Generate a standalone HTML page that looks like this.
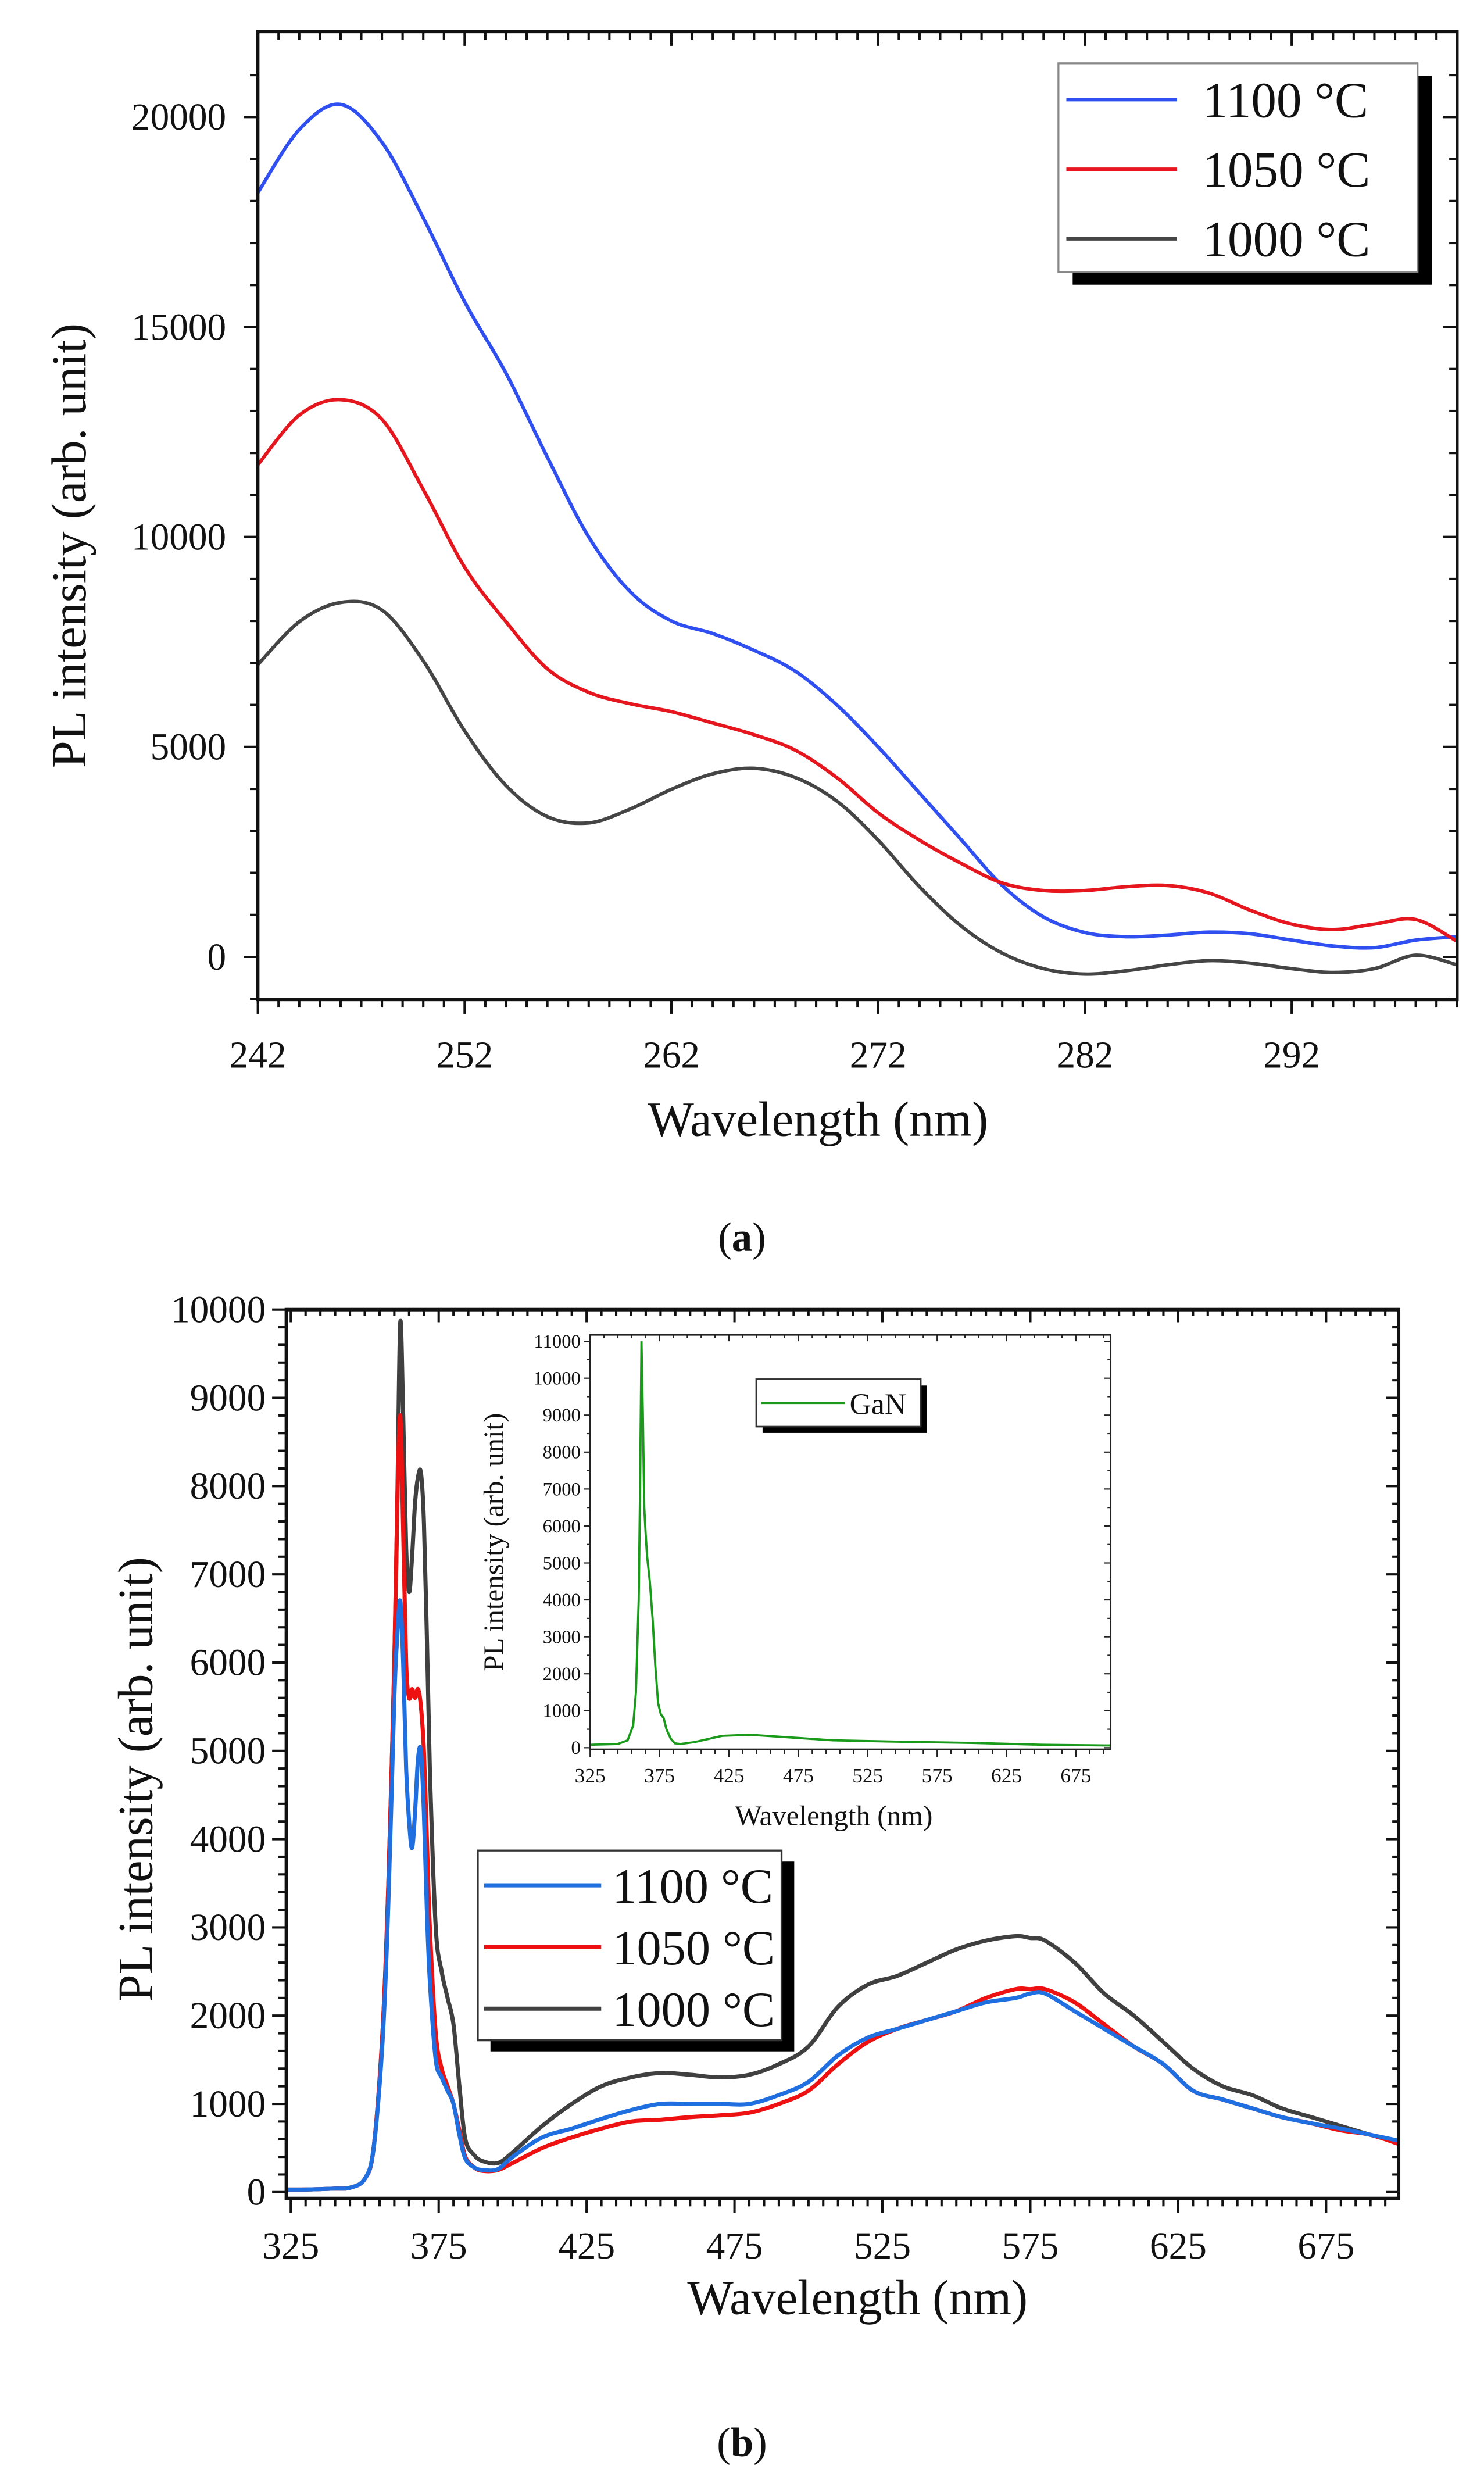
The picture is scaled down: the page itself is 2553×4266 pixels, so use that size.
<!DOCTYPE html>
<html><head><meta charset="utf-8"><style>
html,body{margin:0;padding:0;background:#fff;}
svg{display:block;}
text{font-family:"Liberation Serif",serif;fill:#111;}
</style></head><body>
<svg id="fig" width="2553" height="4266" viewBox="0 0 938 1568" preserveAspectRatio="none" xmlns="http://www.w3.org/2000/svg">
<rect x="0" y="0" width="938" height="1568" fill="#fff"/>
<g id="pa"></g>
<g id="pb"></g>
<g id="pi"></g>
<text x="469" y="791" font-size="26" text-anchor="middle">(<tspan font-weight="bold">a</tspan>)</text>
<text x="469" y="1553" font-size="26" text-anchor="middle">(<tspan font-weight="bold">b</tspan>)</text>
</svg>
<script>
// ---------- Panel (a) data ----------
const aWavelengths = [242,244,246,248,250,252,254,256,258,260,262,264,266,268,270,272,274,276,278,280,282,284,286,288,290,292,294,296,298,300];
const a1100 = [18200,19700,20300,19400,17600,15600,13900,11900,10000,8700,8000,7700,7300,6800,6000,5000,3900,2800,1700,950,580,480,520,590,550,400,260,220,400,480];
const a1050 = [11720,12900,13270,12800,11130,9280,7980,6860,6300,6030,5840,5570,5290,4920,4270,3430,2780,2230,1760,1580,1580,1670,1700,1520,1110,780,650,780,890,370];
const a1000 = [6960,7980,8440,8260,7050,5380,4080,3340,3190,3520,3990,4360,4490,4270,3710,2780,1670,740,90,-280,-410,-330,-190,-90,-150,-280,-370,-280,40,-190];
const aXTicks = [242,252,262,272,282,292];
const aYTicks = [0,5000,10000,15000,20000];
const aLegend = ["1100 °C","1050 °C","1000 °C"];

// ---------- Panel (b) data ----------
const bWavelengths = [320,330,340,345,350,353,356,358,360,361,362,363,364,365,366,367,368,369,370,371,372,374,376,378,380,382,384,387,390,395,400,410,420,430,440,450,460,470,480,490,500,510,520,530,540,550,560,570,575,580,590,600,610,620,630,640,650,660,670,680,690,700];
const b1000 = [30,30,40,50,150,500,1800,3500,6000,7800,9850,8800,7300,6800,7200,7800,8100,8150,7600,6300,4800,3000,2500,2200,1900,1200,600,420,350,330,450,750,1000,1200,1300,1350,1330,1300,1330,1450,1650,2100,2350,2450,2600,2750,2850,2900,2880,2850,2600,2250,2000,1700,1400,1200,1100,950,850,750,650,570];
const b1050 = [30,30,40,50,150,500,1800,3500,6000,7800,8800,7500,6000,5600,5700,5600,5700,5500,5000,4000,3000,1800,1400,1200,1000,700,400,280,240,250,330,500,620,720,800,820,850,870,900,1000,1150,1450,1700,1850,1950,2050,2200,2300,2300,2300,2150,1900,1650,1450,1150,1050,950,850,780,700,650,540];
const b1100 = [30,30,40,50,150,500,1700,3300,5600,6300,6700,6000,4800,4200,3900,4300,4900,5000,4300,3200,2400,1500,1300,1150,1000,650,380,280,250,260,400,620,720,830,930,1000,1000,1000,1000,1100,1250,1550,1750,1850,1950,2050,2150,2200,2250,2250,2050,1850,1650,1450,1150,1050,950,850,780,720,650,580];
const bXTicks = [325,375,425,475,525,575,625,675];
const bYTicks = [0,1000,2000,3000,4000,5000,6000,7000,8000,9000,10000];

// ---------- Inset data ----------
const iWavelengths = [325,345,352,356,358,360,361,362,363,364,365,366,368,370,372,374,376,378,380,383,386,390,400,420,440,460,480,500,550,600,650,700];
const iGaN = [80,100,200,600,1500,4000,7000,11000,9000,6500,5800,5200,4500,3500,2200,1200,900,800,500,250,120,100,150,320,350,300,250,200,160,130,80,60];
const iXTicks = [325,375,425,475,525,575,625,675];
const iYTicks = [0,1000,2000,3000,4000,5000,6000,7000,8000,9000,10000,11000];

const NS = "http://www.w3.org/2000/svg";
function mk(parent, tag, attrs, txt){
  const e = document.createElementNS(NS, tag);
  for (const k in attrs) e.setAttribute(k, attrs[k]);
  if (txt !== undefined) e.textContent = txt;
  parent.appendChild(e);
  return e;
}
function smoothPath(pts){
  let d = "M" + pts[0][0].toFixed(2) + "," + pts[0][1].toFixed(2);
  for (let i=0;i<pts.length-1;i++){
    const p0 = pts[Math.max(0,i-1)], p1 = pts[i], p2 = pts[i+1], p3 = pts[Math.min(pts.length-1,i+2)];
    const c1x = p1[0]+(p2[0]-p0[0])/6, c1y = p1[1]+(p2[1]-p0[1])/6;
    const c2x = p2[0]-(p3[0]-p1[0])/6, c2y = p2[1]-(p3[1]-p1[1])/6;
    d += " C"+c1x.toFixed(2)+","+c1y.toFixed(2)+" "+c2x.toFixed(2)+","+c2y.toFixed(2)+" "+p2[0].toFixed(2)+","+p2[1].toFixed(2);
  }
  return d;
}
function linePath(pts){ return pts.map((p,i)=>(i?"L":"M")+p[0].toFixed(2)+","+p[1].toFixed(2)).join(" "); }

// ===== Panel A =====
(function(){
  const g = document.getElementById('pa');
  const L=163, R=921, T=20, B=632;
  const xMin=242, xMax=300;
  const x = v => L + (v-xMin)/(xMax-xMin)*(R-L);
  const y = v => 605 - v*(605-74)/20000;
  const clip = mk(g,'clipPath',{id:'clipA'}); mk(clip,'rect',{x:L,y:T,width:R-L,height:B-T});
  for (let v=242; v<=300; v++){
    const maj = (v-242)%10===0;
    const tb = mk(g,'line',{x1:x(v),x2:x(v),y1:B,y2:B+(maj?9:5),stroke:'#111','stroke-width':1.5});
     
    mk(g,'line',{x1:x(v),x2:x(v),y1:T,y2:T+(maj?9:5),stroke:'#111','stroke-width':1.5});
  }
  for (let v=-1000; v<=21000; v+=1000){
    const yy=y(v); if (yy<T||yy>B) continue;
    const maj = v%5000===0;
    mk(g,'line',{x1:L-(maj?9:5),x2:L,y1:yy,y2:yy,stroke:'#111','stroke-width':1.5});
    mk(g,'line',{x1:R-(maj?9:5),x2:R,y1:yy,y2:yy,stroke:'#111','stroke-width':1.5});
  }
  aXTicks.forEach(v=>{
    const t = mk(g,'text',{x:x(v),y:675,'font-size':24,'text-anchor':'middle'},String(v));
     
  });
  aYTicks.forEach(v=>{
    const t = mk(g,'text',{x:143,y:y(v)+8,'font-size':24,'text-anchor':'end'},String(v));
     
  });
  const xt = mk(g,'text',{x:517,y:718,'font-size':31,'text-anchor':'middle'},"Wavelength  (nm)");
   
  const yt = mk(g,'text',{x:0,y:0,'font-size':31,'text-anchor':'middle',transform:'translate(54,345) rotate(-90)'},"PL intensity  (arb. unit)");
   
  const series = [[a1100,'#2f4ff0','series-1100'],[a1050,'#e5161e','series-1050'],[a1000,'#454545','series-1000']];
  series.forEach(s=>{
    const pts = aWavelengths.map((w,i)=>[x(w),y(s[0][i])]);
    const p = mk(g,'path',{d:smoothPath(pts),fill:'none',stroke:s[1],'stroke-width':2.2,'clip-path':'url(#clipA)'});
     
  });
  mk(g,'rect',{x:L,y:T,width:R-L,height:B-T,fill:'none',stroke:'#111','stroke-width':2});
  const lg = mk(g,'g',{});
   
  mk(lg,'rect',{x:678,y:48,width:227,height:132,fill:'#000'});
  mk(lg,'rect',{x:669,y:40,width:227,height:132,fill:'#fff',stroke:'#888','stroke-width':1.2});
  series.forEach((s,i)=>{
    const yy = 63+i*44;
    const e = mk(lg,'g',{});
     
    mk(e,'line',{x1:674,x2:744,y1:yy,y2:yy,stroke:s[1],'stroke-width':2.2});
    mk(e,'text',{x:760,y:yy+11,'font-size':32},aLegend[i]);
  });
})();

// ===== Panel B =====
(function(){
  const g = document.getElementById('pb');
  const L=181, R=884, T=828, B=1390;
  const xMin=323.5, xMax=699.5;
  const x = v => L + (v-xMin)/(xMax-xMin)*(R-L);
  const y = v => 1386 - v*(1386-828)/10000;
  const clip = mk(g,'clipPath',{id:'clipB'}); mk(clip,'rect',{x:L,y:T,width:R-L,height:B-T});
  for (let v=325; v<=699; v+=5){
    const maj=(v-325)%50===0;
    const tb = mk(g,'line',{x1:x(v),x2:x(v),y1:B,y2:B+(maj?9:5),stroke:'#111','stroke-width':1.5});
     
    mk(g,'line',{x1:x(v),x2:x(v),y1:T,y2:T+(maj?8:4),stroke:'#111','stroke-width':1.5});
  }
  for (let v=0; v<=10000; v+=200){
    const maj=v%1000===0; const yy=y(v);
    mk(g,'line',{x1:L-(maj?9:5),x2:L,y1:yy,y2:yy,stroke:'#111','stroke-width':1.5});
    mk(g,'line',{x1:R-(maj?8:4),x2:R,y1:yy,y2:yy,stroke:'#111','stroke-width':1.5});
  }
  bXTicks.forEach(v=>{
    const t = mk(g,'text',{x:x(v),y:1428,'font-size':24,'text-anchor':'middle'},String(v));
     
  });
  bYTicks.forEach(v=>{
    const t = mk(g,'text',{x:168,y:y(v)+8,'font-size':24,'text-anchor':'end'},String(v));
     
  });
  const xt = mk(g,'text',{x:542,y:1463,'font-size':31,'text-anchor':'middle'},"Wavelength  (nm)");
   
  const yt = mk(g,'text',{x:0,y:0,'font-size':31,'text-anchor':'middle',transform:'translate(96,1125) rotate(-90)'},"PL intensity  (arb. unit)");
   
  const series = [[b1000,'#404040','series-1000'],[b1050,'#ee1111','series-1050'],[b1100,'#1f6fe0','series-1100']];
  series.forEach(s=>{
    const pts = bWavelengths.map((w,i)=>[x(w),y(s[0][i])]);
    const p = mk(g,'path',{d:smoothPath(pts),fill:'none',stroke:s[1],'stroke-width':2.6,'stroke-linejoin':'round','clip-path':'url(#clipB)'});
     
  });
  mk(g,'rect',{x:L,y:T,width:R-L,height:B-T,fill:'none',stroke:'#111','stroke-width':2.2});
  const lg = mk(g,'g',{});
   
  mk(lg,'rect',{x:310,y:1177,width:192,height:120,fill:'#000'});
  mk(lg,'rect',{x:302,y:1170,width:192,height:120,fill:'#fff',stroke:'#333','stroke-width':1.2});
  const order=[[b1100,'#1f6fe0'],[b1050,'#ee1111'],[b1000,'#404040']];
  const names=["1100 °C","1050 °C","1000 °C"];
  order.forEach((s,i)=>{
    const yy=1192+i*39;
    const e = mk(lg,'g',{});
     
    mk(e,'line',{x1:306,x2:380,y1:yy,y2:yy,stroke:s[1],'stroke-width':2.6});
    mk(e,'text',{x:387,y:yy+11,'font-size':31},names[i]);
  });
})();

// ===== Inset =====
(function(){
  const g = document.getElementById('pi');
  const L=373, R=702, T=844, B=1106;
  const xMin=325, xMax=700;
  const x = v => L + (v-xMin)/(xMax-xMin)*(R-L);
  const y = v => 1105 - v*(1105-848)/11000;
  mk(g,'rect',{x:L,y:T,width:R-L,height:B-T,fill:'#fff'});
  for (let v=325; v<=700; v+=10){
    const maj=(v-325)%50===0;
    mk(g,'line',{x1:x(v),x2:x(v),y1:B,y2:B+(maj?5:3),stroke:'#222','stroke-width':0.8});
    mk(g,'line',{x1:x(v),x2:x(v),y1:T,y2:T+(maj?4:2),stroke:'#222','stroke-width':0.8});
  }
  for (let v=0; v<=11000; v+=500){
    const maj=v%1000===0; const yy=y(v);
    mk(g,'line',{x1:L-(maj?4:2),x2:L,y1:yy,y2:yy,stroke:'#222','stroke-width':0.8});
    mk(g,'line',{x1:R-(maj?4:2),x2:R,y1:yy,y2:yy,stroke:'#222','stroke-width':0.8});
  }
  iXTicks.forEach(v=>{
    const t = mk(g,'text',{x:x(v),y:1127,'font-size':13,'text-anchor':'middle'},String(v));
     
  });
  iYTicks.forEach(v=>{
    const t = mk(g,'text',{x:367,y:y(v)+4,'font-size':12,'text-anchor':'end'},String(v));
     
  });
  const xt = mk(g,'text',{x:527,y:1154,'font-size':18,'text-anchor':'middle'},"Wavelength  (nm)");
   
  const yt = mk(g,'text',{x:0,y:0,'font-size':18,'text-anchor':'middle',transform:'translate(318,975) rotate(-90)'},"PL intensity  (arb. unit)");
   
  const pts = iWavelengths.map((w,i)=>[x(w),y(iGaN[i])]);
  const p = mk(g,'path',{d:linePath(pts),fill:'none',stroke:'#1a9a1a','stroke-width':1.4});
   
  mk(g,'rect',{x:L,y:T,width:R-L,height:B-T,fill:'none',stroke:'#222','stroke-width':1});
  const lg = mk(g,'g',{});
   
  mk(lg,'rect',{x:482,y:876,width:104,height:30,fill:'#000'});
  mk(lg,'rect',{x:478,y:872,width:104,height:30,fill:'#fff',stroke:'#333','stroke-width':1});
  mk(lg,'line',{x1:481,x2:534,y1:887,y2:887,stroke:'#1a9a1a','stroke-width':1.4});
  mk(lg,'text',{x:537,y:894,'font-size':19},"GaN");
})();
</script>
</body></html>
